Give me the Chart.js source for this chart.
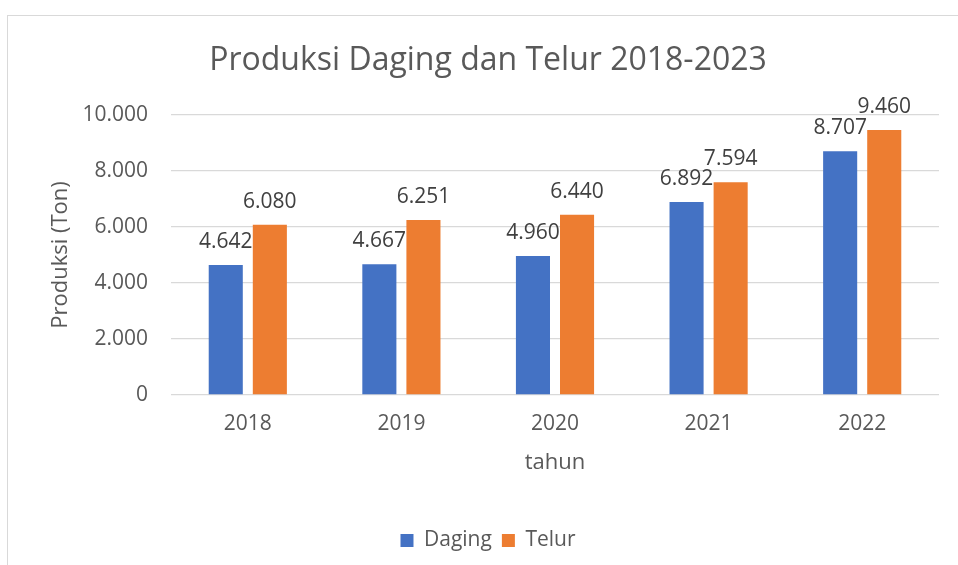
<!DOCTYPE html>
<html>
  <head>
    <meta charset="utf-8">
    <title>Produksi Daging dan Telur</title>
    <style>
      html, body { margin: 0; padding: 0; background: #fff; }
      body { width: 958px; height: 565px; overflow: hidden; position: relative; }
      #frame { position: absolute; left: 7px; top: 15px; width: 1000px; height: 600px; border: 1px solid #d9d9d9; }
      #wrap { position: absolute; left: 0; top: 0; width: 976px; height: 565px; }
    </style>
  </head>
  <body>
    <div id="frame"></div>
    <div id="wrap"><canvas id="myChart" width="976" height="565"></canvas></div>

    <script src="https://cdn.jsdelivr.net/npm/chart.js@4.4.1/dist/chart.umd.min.js"></script>
    <script>
      // data
      var years = ['2018', '2019', '2020', '2021', '2022'];
      var daging = [4642, 4667, 4960, 6892, 8707];
      var telur = [6080, 6251, 6440, 7594, 9460];
      var yTicks = [0, 2000, 4000, 6000, 8000, 10000];

      var FONT = "'Open Sans', 'DejaVu Sans', sans-serif";
      var GREY = '#595959';

      // 1234 -> "1.234" (Indonesian thousands separator)
      function fmt(v) {
        return String(Math.round(v)).replace(/\B(?=(\d{3})+(?!\d))/g, '.');
      }

      // value labels above each bar
      var barLabels = {
        id: 'barLabels',
        afterDatasetsDraw: function (chart) {
          var ctx = chart.ctx;
          ctx.save();
          ctx.font = '21px ' + FONT;
          ctx.fillStyle = '#404040';
          ctx.textAlign = 'center';
          ctx.textBaseline = 'alphabetic';
          chart.data.datasets.forEach(function (ds, i) {
            var meta = chart.getDatasetMeta(i);
            meta.data.forEach(function (bar, j) {
              ctx.fillText(fmt(ds.data[j]), bar.x, bar.y - 17);
            });
          });
          ctx.restore();
        }
      };

      var ctx = document.getElementById('myChart');
      var myChart = new Chart(ctx, {
        type: 'bar',
        data: {
          labels: years,
          datasets: [
            { label: 'Daging', data: daging, backgroundColor: '#4472c4' },
            { label: 'Telur', data: telur, backgroundColor: '#ed7d31' }
          ]
        },
        options: {
          responsive: false,
          animation: false,
          categoryPercentage: 0.574,
          barPercentage: 0.773,
          layout: { padding: { left: 0, right: 0, top: 0, bottom: 4 } },
          plugins: {
            title: {
              display: true,
              text: 'Produksi Daging dan Telur 2018-2023',
              color: GREY,
              font: { family: FONT, size: 32, weight: 'normal' },
              padding: { top: 42, bottom: 34.6 }
            },
            legend: {
              position: 'bottom',
              labels: {
                color: GREY,
                boxWidth: 13,
                boxHeight: 13,
                padding: 10,
                font: { family: FONT, size: 21 }
              }
            },
            tooltip: { enabled: false }
          },
          scales: {
            x: {
              grid: { display: false, drawTicks: false },
              border: { display: false },
              ticks: { color: GREY, padding: 16, font: { family: FONT, size: 21 } },
              title: {
                display: true,
                text: 'tahun',
                color: GREY,
                font: { family: FONT, size: 22 },
                padding: { top: 10, bottom: 44 }
              },
              afterFit: function (axis) { axis.height = 125; }
            },
            y: {
              min: 0,
              max: 10000,
              afterBuildTicks: function (axis) {
                axis.ticks = yTicks.map(function (v) { return { value: v }; });
              },
              grid: { color: '#d9d9d9', lineWidth: 1.3, drawTicks: false },
              border: { display: false },
              ticks: {
                color: GREY,
                padding: 23,
                font: { family: FONT, size: 21 },
                callback: function (v) { return fmt(v); }
              },
              title: {
                display: true,
                text: 'Produksi (Ton)',
                color: GREY,
                font: { family: FONT, size: 22 },
                padding: { top: 48, bottom: 10 }
              },
              afterFit: function (axis) { axis.width = 171; }
            },
            yRight: {
              position: 'right',
              display: true,
              grid: { display: false, drawTicks: false },
              border: { display: false },
              ticks: { display: false },
              afterFit: function (axis) { axis.width = 37; }
            }
          }
        },
        plugins: [barLabels]
      });
    </script>
  </body>
</html>
